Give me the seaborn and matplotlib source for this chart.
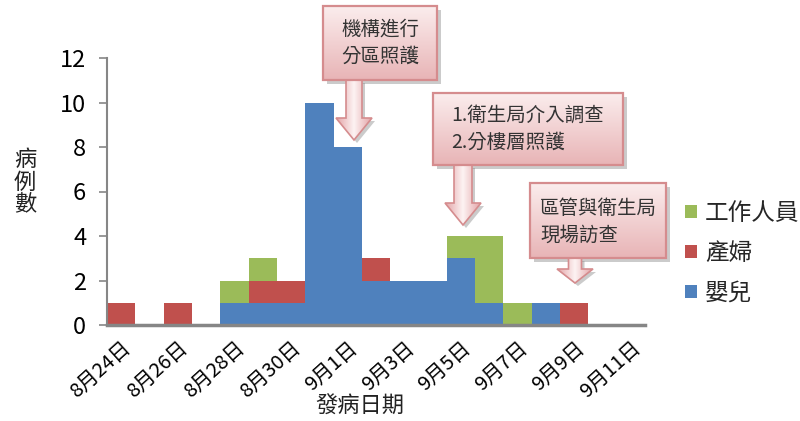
import numpy as np
import pandas as pd
import matplotlib
matplotlib.use("Agg")
import matplotlib.pyplot as plt
import matplotlib.colors as mcolors
from matplotlib.patches import Rectangle, Polygon, Patch
import seaborn as sns

# ---------------- data ----------------
dates = ["8月24日", "8月25日", "8月26日", "8月27日", "8月28日", "8月29日", "8月30日",
         "8月31日", "9月1日", "9月2日", "9月3日", "9月4日", "9月5日", "9月6日",
         "9月7日", "9月8日", "9月9日", "9月10日", "9月11日"]
infants = [0, 0, 0, 0, 1, 1, 1, 10, 8, 2, 2, 2, 3, 1, 0, 1, 0, 0, 0]    # 嬰兒
mothers = [1, 0, 1, 0, 0, 1, 1, 0, 0, 1, 0, 0, 0, 0, 0, 0, 1, 0, 0]     # 產婦
staff   = [0, 0, 0, 0, 1, 1, 0, 0, 0, 0, 0, 0, 1, 3, 1, 0, 0, 0, 0]     # 工作人員
series_names = ["工作人員", "產婦", "嬰兒"]
series_colors = ["#9BBB59", "#C0504D", "#4F81BD"]
y_ticks = [0, 2, 4, 6, 8, 10, 12]
notes = [["機構進行", "分區照護"],
         ["1.衛生局介入調查", "2.分樓層照護"],
         ["區管與衛生局", "現場訪查"]]

# ---------------- style ----------------
sns.set_theme(style="white")
plt.rcParams["font.family"] = ["Noto Sans CJK TC", "DejaVu Sans"]

rows = []
for i, d in enumerate(dates):
    rows.append({"day": i, "type": "嬰兒", "n": infants[i]})
    rows.append({"day": i, "type": "產婦", "n": mothers[i]})
    rows.append({"day": i, "type": "工作人員", "n": staff[i]})
df = pd.DataFrame(rows)

fig = plt.figure(figsize=(8, 4.21), dpi=100)
ax = fig.add_axes([107 / 800, 1 - 325 / 421, (645 - 107) / 800, (325 - 58) / 421])

sns.histplot(data=df, x="day", weights="n", hue="type", hue_order=series_names,
             palette=series_colors, multiple="stack", discrete=True, shrink=1,
             alpha=1, linewidth=0, legend=False, ax=ax)

ax.set_xlim(-0.5, len(dates) - 0.5)
ax.set_ylim(0, 12)
ax.set_yticks(y_ticks)
ax.set_yticklabels([str(v) for v in y_ticks], fontsize=17, color="black")
xt = list(range(0, len(dates), 2))
ax.set_xticks(xt)
ax.set_xticklabels([dates[i] for i in xt], rotation=42, ha="right", va="top",
                   rotation_mode="anchor", fontsize=14.5, color="black")
ax.tick_params(axis="x", length=0, pad=9)
ax.tick_params(axis="y", length=6, width=1.2, color="#868686", pad=9, left=True)
ax.set_xlabel("")
ax.set_ylabel("")
for s in ["top", "right"]:
    ax.spines[s].set_visible(False)
ax.spines["left"].set_color("#868686")
ax.spines["left"].set_linewidth(1.5)
ax.spines["bottom"].set_color("#868686")
ax.spines["bottom"].set_linewidth(2.5)
ax.grid(False)

fig.text(360 / 800, 1 - 406 / 421, "發病日期", ha="center", va="center",
         fontsize=16, color="#222222")
fig.text(25 / 800, 1 - 182 / 421, "病\n例\n數", ha="center", va="center",
         fontsize=16, color="#222222", linespacing=0.95)

handles = [Patch(facecolor=c, edgecolor="none") for c in series_colors]
fig.legend(handles, series_names, loc="upper left",
           bbox_to_anchor=(685 / 800, 1 - 202 / 421), frameon=False,
           fontsize=17, handlelength=0.5, handleheight=0.5, handletextpad=0.35,
           labelspacing=0.72, borderpad=0, borderaxespad=0)

# ---------------- call-out overlay (pixel coordinates) ----------------
ov = fig.add_axes([0, 0, 1, 1], zorder=5)
ov.set_xlim(0, 800)
ov.set_ylim(421, 0)
ov.axis("off")
ov.patch.set_alpha(0)


def vgrad(c0, c1, n=128):
    a = np.array(mcolors.to_rgb(c0))
    b = np.array(mcolors.to_rgb(c1))
    t = np.linspace(0, 1, n)[:, None]
    return (a * (1 - t) + b * t)[:, None, :].repeat(2, axis=1)


def hgrad(edge, mid, n=128):
    a = np.array(mcolors.to_rgb(edge))
    b = np.array(mcolors.to_rgb(mid))
    t = 1 - np.abs(np.linspace(-1, 1, n))
    t = t[None, :, None]
    return (a * (1 - t) + b * t).repeat(2, axis=0)


def callout(x0, y0, x1, y1, lines, tx, ty, ha):
    sh = Rectangle((x0 + 4, y0 + 4), x1 - x0, y1 - y0, facecolor="#8c8c8c",
                   edgecolor="none", alpha=0.45, zorder=1)
    ov.add_patch(sh)
    box = Rectangle((x0, y0), x1 - x0, y1 - y0, facecolor="none",
                    edgecolor="#D58C8E", linewidth=1.6, zorder=3)
    ov.add_patch(box)
    im = ov.imshow(vgrad("#FBEDED", "#E8B4B6"), extent=(x0, x1, y1, y0),
                   aspect="auto", zorder=2, interpolation="bilinear")
    im.set_clip_path(box)
    ov.text(tx, ty, "\n".join(lines), ha=ha, va="center", fontsize=14,
            color="#333333", linespacing=1.4, zorder=4)


def block_arrow(cx, y0, yh, tip, shaft_w, head_w):
    pts = [(cx - shaft_w / 2, y0), (cx + shaft_w / 2, y0), (cx + shaft_w / 2, yh),
           (cx + head_w / 2, yh), (cx, tip), (cx - head_w / 2, yh),
           (cx - shaft_w / 2, yh)]
    shadow = Polygon([(x + 3, y + 3) for x, y in pts], closed=True,
                     facecolor="#8c8c8c", edgecolor="none", alpha=0.45, zorder=1)
    ov.add_patch(shadow)
    poly = Polygon(pts, closed=True, facecolor="none", edgecolor="#D58C8E",
                   linewidth=1.2, zorder=3)
    ov.add_patch(poly)
    im = ov.imshow(hgrad("#E3A3A6", "#FDF3F3"),
                   extent=(cx - head_w / 2, cx + head_w / 2, tip, y0),
                   aspect="auto", zorder=2, interpolation="bilinear")
    im.set_clip_path(poly)


block_arrow(354, 80, 118, 140, 16, 36)
callout(323, 6, 437, 80, notes[0], 380, 43, "center")

block_arrow(463, 165, 203, 225, 18, 36)
callout(433, 93, 623, 165, notes[1], 451, 129, "left")

block_arrow(575, 258, 269, 283, 13, 36)
callout(530, 183, 666, 258, notes[2], 540, 222, "left")

ov.set_xlim(0, 800)
ov.set_ylim(421, 0)

fig.savefig("out.png", dpi=100)
